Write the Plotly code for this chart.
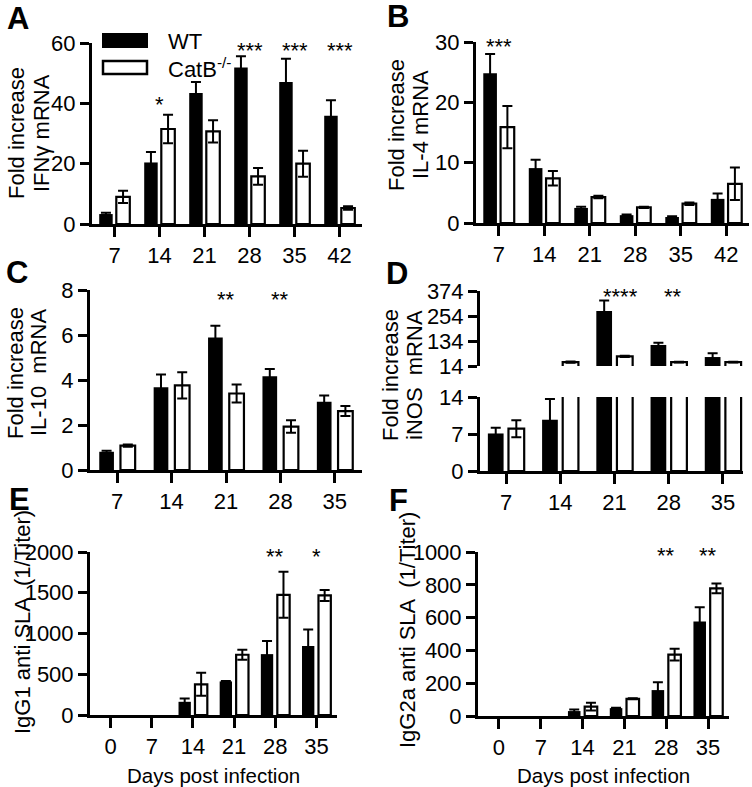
import plotly.graph_objects as go

W, H = 752, 787
FONT = "Arial, Liberation Sans, sans-serif"

# ---------------- data ----------------
days_A = ["7", "14", "21", "28", "35", "42"]
ifng_wt = [3.3, 20.4, 43.4, 51.9, 47.1, 35.9]
ifng_wt_err = [0.4, 3.5, 3.7, 3.7, 7.7, 5.1]
ifng_ko = [9.0, 31.5, 30.7, 15.8, 20.0, 5.3]
ifng_ko_err = [2.0, 4.7, 3.7, 2.8, 4.3, 0.6]

days_B = ["7", "14", "21", "28", "35", "42"]
il4_wt = [24.8, 9.1, 2.5, 1.3, 1.0, 4.0]
il4_wt_err = [3.2, 1.4, 0.2, 0.1, 0.1, 0.9]
il4_ko = [15.9, 7.4, 4.3, 2.6, 3.2, 6.5]
il4_ko_err = [3.5, 1.2, 0.2, 0.1, 0.2, 2.7]

days_C = ["7", "14", "21", "28", "35"]
il10_wt = [0.81, 3.68, 5.89, 4.17, 3.03]
il10_wt_err = [0.05, 0.56, 0.52, 0.32, 0.28]
il10_ko = [1.08, 3.76, 3.40, 1.93, 2.62]
il10_ko_err = [0.05, 0.58, 0.40, 0.28, 0.22]

days_D = ["7", "14", "21", "28", "35"]
inos_wt = [7.1, 9.7, 278, 115, 57]
inos_wt_err = [1.1, 3.9, 51, 11, 18]
inos_ko = [8.0, 33, 60, 33, 33]
inos_ko_err = [1.6, 3, 3, 2, 2]
inos_break = 14  # axis break value

days_EF = ["0", "7", "14", "21", "28", "35"]
igg1_wt = [0, 0, 162, 412, 747, 848]
igg1_wt_err = [0, 0, 40, 5, 162, 202]
igg1_ko = [0, 0, 376, 739, 1475, 1467]
igg1_ko_err = [0, 0, 141, 61, 283, 68]

igg2a_wt = [0, 0, 30, 48, 158, 576]
igg2a_wt_err = [0, 0, 10, 3, 48, 87]
igg2a_ko = [0, 0, 57, 105, 374, 778]
igg2a_ko_err = [0, 0, 24, 3, 36, 30]

# significance marks: (category position, text)
stars_A = [(1, "*"), (3, "***"), (4, "***"), (5, "***")]
stars_B = [(0, "***")]
stars_C = [(2, "**"), (3, "**")]
stars_D = [(2.12, "****"), (3.08, "**")]
stars_E = [(4, "**"), (5, "*")]
stars_F = [(4, "**"), (5, "**")]

# ---------------- helpers ----------------
def px(x):
    return x / W

def py(y):
    return 1 - y / H

fig = go.Figure()


def shown(vals, errs, floor=0):
    """Hide bars that have no visible height above the axis floor."""
    v = [x if x > floor else None for x in vals]
    e = [er if x > floor else None for x, er in zip(vals, errs)]
    return v, e


def add_bars(xa, ya, wt, wt_err, ko, ko_err, w, g, floor=0):
    idx = list(range(len(wt)))
    wv, we = shown(wt, wt_err, floor)
    kv, ke = shown(ko, ko_err, floor)
    fig.add_trace(go.Bar(
        x=idx, y=wv, width=w, offset=-(w + g / 2), xaxis=xa, yaxis=ya,
        marker=dict(color="black", line=dict(width=0)),
        error_y=dict(type="data", array=we, symmetric=True, color="black",
                     thickness=2, width=5),
        name="WT", showlegend=False))
    fig.add_trace(go.Bar(
        x=idx, y=kv, width=w, offset=g / 2, xaxis=xa, yaxis=ya,
        marker=dict(color="white", line=dict(width=2.2, color="black")),
        error_y=dict(type="data", array=ke, symmetric=True, color="black",
                     thickness=2, width=5),
        name="CatB-/-", showlegend=False))


add_bars("x", "y", ifng_wt, ifng_wt_err, ifng_ko, ifng_ko_err, 0.3, 0.08)
add_bars("x2", "y2", il4_wt, il4_wt_err, il4_ko, il4_ko_err, 0.3, 0.08)
add_bars("x3", "y3", il10_wt, il10_wt_err, il10_ko, il10_ko_err, 0.27, 0.12)
add_bars("x4", "y4", inos_wt, inos_wt_err, inos_ko, inos_ko_err, 0.29, 0.09, floor=inos_break)
add_bars("x5", "y5", inos_wt, inos_wt_err, inos_ko, inos_ko_err, 0.29, 0.09)
add_bars("x6", "y6", igg1_wt, igg1_wt_err, igg1_ko, igg1_ko_err, 0.3, 0.1)
add_bars("x7", "y7", igg2a_wt, igg2a_wt_err, igg2a_ko, igg2a_ko_err, 0.3, 0.1)

tickfont = dict(family=FONT, size=22, color="black")

def xax(left, right, n, labels, anchor, rng=None, visible=True):
    return dict(domain=[px(left), px(right)], range=rng or [-0.5, n - 0.5],
                tickmode="array", tickvals=list(range(n)), ticktext=labels,
                showline=visible, linewidth=3, linecolor="black",
                ticks="outside" if visible else "", ticklen=10, tickwidth=3,
                tickcolor="black", showticklabels=visible, tickfont=tickfont,
                showgrid=False, zeroline=False, anchor=anchor, fixedrange=True,
                automargin=False)

def yax(top, bottom, rng, vals, anchor):
    return dict(domain=[py(bottom), py(top)], range=rng, tickmode="array",
                tickvals=vals, ticktext=[str(v) for v in vals],
                showline=True, linewidth=3, linecolor="black",
                ticks="outside", ticklen=9, tickwidth=3, tickcolor="black",
                tickfont=tickfont, showgrid=False, zeroline=False,
                anchor=anchor, fixedrange=True, automargin=False)

layout = dict(
    template="none",
    width=W, height=H, margin=dict(l=0, r=0, t=0, b=0, pad=0, autoexpand=False),
    paper_bgcolor="white", plot_bgcolor="rgba(0,0,0,0)",
    barmode="overlay", showlegend=False,
    font=dict(family=FONT, color="black"),
)
layout["xaxis"] = xax(92, 362, 6, days_A, "y")
layout["yaxis"] = yax(43, 224, [0, 60], [0, 20, 40, 60], "x")
layout["xaxis2"] = xax(476, 749, 6, days_B, "y2")
layout["yaxis2"] = yax(42, 223, [0, 30], [0, 10, 20, 30], "x2")
layout["xaxis3"] = xax(90, 362, 5, days_C, "y3")
layout["yaxis3"] = yax(290, 470, [0, 8], [0, 2, 4, 6, 8], "x3")
layout["xaxis4"] = xax(480, 743, 5, days_D, "y4", rng=[-0.48, 4.37], visible=False)
layout["yaxis4"] = yax(291, 366, [inos_break, 374], [14, 134, 254, 374], "x4")
layout["xaxis5"] = xax(480, 743, 5, days_D, "y5", rng=[-0.48, 4.37])
layout["yaxis5"] = yax(397, 471, [0, inos_break], [0, 7, 14], "x5")
layout["xaxis6"] = xax(90, 337, 6, days_EF, "y6")
layout["yaxis6"] = yax(552, 715, [0, 2000], [0, 500, 1000, 1500, 2000], "x6")
layout["xaxis7"] = xax(478, 729, 6, days_EF, "y7")
layout["yaxis7"] = yax(552, 716, [0, 1000], [0, 200, 400, 600, 800, 1000], "x7")
fig.update_layout(**layout)

ann = []
# significance stars (y given as pixel row of the glyph centre)
def stars(xref, lst, ypix):
    for i, t in lst:
        ann.append(dict(x=i, y=py(ypix), xref=xref, yref="paper", text=t,
                        showarrow=False, xanchor="center", yanchor="middle",
                        yshift=-3, font=dict(family=FONT, size=22, color="black")))

stars("x", stars_A[:1], 102)
stars("x", stars_A[1:], 47)
stars("x2", stars_B, 43)
stars("x3", stars_C, 297)
stars("x5", stars_D, 293)
stars("x6", stars_E, 553)
stars("x7", stars_F, 552)

# panel letters
for t, x, y in [("A", 18, 18), ("B", 398, 17), ("C", 17, 272), ("D", 397, 274),
                ("E", 19, 499), ("F", 398, 500)]:
    ann.append(dict(x=px(x), y=py(y), xref="paper", yref="paper", text="<b>%s</b>" % t,
                    showarrow=False, xanchor="center", yanchor="middle",
                    font=dict(family=FONT, size=31, color="black")))

# y-axis titles
def vtitle(text, x, y):
    ann.append(dict(x=px(x), y=py(y), xref="paper", yref="paper", text=text,
                    textangle=-90, showarrow=False, xanchor="center", yanchor="middle",
                    font=dict(family=FONT, size=22, color="black")))

vtitle("Fold increase", 16, 133)
vtitle("IFNγ mRNA", 41, 133)
vtitle("Fold increase", 397, 125)
vtitle("IL-4 mRNA", 421, 125)
vtitle("Fold increase", 15, 373)
vtitle("IL-10 \u00a0mRNA", 38, 373)
vtitle("Fold increase", 390, 375)
vtitle("iNOS \u00a0mRNA", 414, 375)
vtitle("IgG1 anti SLA \u00a0(1/Titer)", 22, 622)
vtitle("IgG2a anti SLA \u00a0(1/Titer)", 407, 630)

# x-axis titles
for x in (213, 603):
    ann.append(dict(x=px(x), y=py(775), xref="paper", yref="paper",
                    text="Days post infection", showarrow=False,
                    xanchor="center", yanchor="middle",
                    font=dict(family=FONT, size=20.5, color="black")))

# legend (panel A)
shapes = [
    dict(type="rect", xref="paper", yref="paper", x0=px(102), x1=px(148),
         y0=py(48), y1=py(33), fillcolor="black", line=dict(width=0)),
    dict(type="rect", xref="paper", yref="paper", x0=px(103), x1=px(147),
         y0=py(74), y1=py(61), fillcolor="white", line=dict(width=2.5, color="black")),
]
ann.append(dict(x=px(166), y=py(41), xref="paper", yref="paper", text="WT",
                showarrow=False, xanchor="left", yanchor="middle",
                font=dict(family=FONT, size=22, color="black")))
ann.append(dict(x=px(166), y=py(68), xref="paper", yref="paper",
                text="CatB<sup>-/-</sup>", showarrow=False, xanchor="left",
                yanchor="middle", font=dict(family=FONT, size=22, color="black")))

fig.update_layout(annotations=ann, shapes=shapes)
fig.write_html("out.html",
               config={"displayModeBar": False, "staticPlot": True},
               post_script="document.body.style.margin='0px';"
                           "document.body.style.overflow='hidden';")
